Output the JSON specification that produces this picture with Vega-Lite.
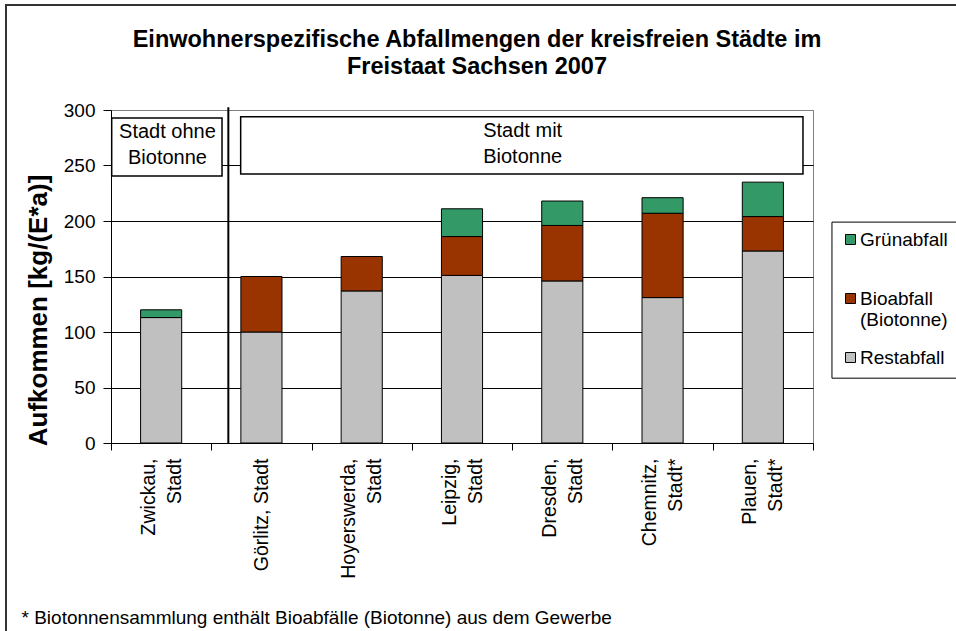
{
  "$schema": "https://vega.github.io/schema/vega-lite/v6.json",
  "width": 702,
  "height": 333,
  "autosize": {"type": "none"},
  "padding": {"left": 111, "top": 110, "right": 143, "bottom": 188},
  "background": "white",
  "config": {
    "font": "Liberation Sans",
    "view": {"stroke": "#808080", "strokeWidth": 1}
  },
  "title": {
    "text": ["Einwohnerspezifische Abfallmengen der kreisfreien Städte im", "Freistaat Sachsen 2007"],
    "fontSize": 23.5,
    "fontWeight": "bold",
    "color": "black",
    "lineHeight": 27,
    "anchor": "middle",
    "frame": "group",
    "dx": 15,
    "offset": -75
  },
  "datasets": {
    "waste": [
      {"Stadt": "Zwickau, Stadt", "Art": "Restabfall", "ord": 1, "Menge": 113},
      {"Stadt": "Zwickau, Stadt", "Art": "Grünabfall", "ord": 3, "Menge": 7},
      {"Stadt": "Görlitz, Stadt", "Art": "Restabfall", "ord": 1, "Menge": 100},
      {"Stadt": "Görlitz, Stadt", "Art": "Bioabfall (Biotonne)", "ord": 2, "Menge": 50},
      {"Stadt": "Hoyerswerda, Stadt", "Art": "Restabfall", "ord": 1, "Menge": 137},
      {"Stadt": "Hoyerswerda, Stadt", "Art": "Bioabfall (Biotonne)", "ord": 2, "Menge": 31},
      {"Stadt": "Leipzig, Stadt", "Art": "Restabfall", "ord": 1, "Menge": 151},
      {"Stadt": "Leipzig, Stadt", "Art": "Bioabfall (Biotonne)", "ord": 2, "Menge": 35},
      {"Stadt": "Leipzig, Stadt", "Art": "Grünabfall", "ord": 3, "Menge": 25},
      {"Stadt": "Dresden, Stadt", "Art": "Restabfall", "ord": 1, "Menge": 146},
      {"Stadt": "Dresden, Stadt", "Art": "Bioabfall (Biotonne)", "ord": 2, "Menge": 50},
      {"Stadt": "Dresden, Stadt", "Art": "Grünabfall", "ord": 3, "Menge": 22},
      {"Stadt": "Chemnitz, Stadt*", "Art": "Restabfall", "ord": 1, "Menge": 131},
      {"Stadt": "Chemnitz, Stadt*", "Art": "Bioabfall (Biotonne)", "ord": 2, "Menge": 76},
      {"Stadt": "Chemnitz, Stadt*", "Art": "Grünabfall", "ord": 3, "Menge": 14},
      {"Stadt": "Plauen, Stadt*", "Art": "Restabfall", "ord": 1, "Menge": 173},
      {"Stadt": "Plauen, Stadt*", "Art": "Bioabfall (Biotonne)", "ord": 2, "Menge": 31},
      {"Stadt": "Plauen, Stadt*", "Art": "Grünabfall", "ord": 3, "Menge": 31}
    ],
    "boxes": [
      {"x1": 0.007, "x2": 1.107, "y1": 240.5, "y2": 292.8},
      {"x1": 1.293, "x2": 6.9, "y1": 242.3, "y2": 294}
    ],
    "boxtext": [
      {"x": 0.563, "y": 280.2, "label": "Stadt ohne\nBiotonne"},
      {"x": 4.105, "y": 281.3, "label": "Stadt mit\nBiotonne"}
    ],
    "divider": [{"x": 1.17, "y1": 0, "y2": 302.4}],
    "frame": [{"x1": -1.047, "x2": 8.5, "y1": -250, "y2": 394.7}],
    "legendbox": [{"x1": 7.189, "x2": 8.5, "y1": 58.4, "y2": 199}]
  },
  "layer": [
    {
      "data": {"name": "waste"},
      "mark": {"type": "bar", "stroke": "black", "strokeWidth": 1, "width": {"band": 0.41}},
      "encoding": {
        "x": {
          "field": "Stadt",
          "type": "nominal",
          "sort": null,
          "scale": {"paddingInner": 0, "paddingOuter": 0},
          "axis": {
            "title": "* Biotonnensammlung enthält Bioabfälle (Biotonne) aus dem Gewerbe",
            "titleFontSize": 19,
            "titleFontWeight": "normal",
            "titleColor": "black",
            "titleX": -90,
            "titleY": 180,
            "titleAlign": "left",
            "titleBaseline": "alphabetic",
            "labelAngle": -90,
            "labelAlign": "right",
            "labelBaseline": "middle",
            "labelFontSize": 19.5,
            "labelColor": "black",
            "labelLineHeight": 26,
            "labelPadding": 8,
            "labelOffset": {"condition": {"test": "datum.value == 'Görlitz, Stadt'", "value": 0}, "value": -13},
            "labelExpr": "isValid(datum.value) ? (datum.value == 'Görlitz, Stadt' ? 'Görlitz,  Stadt' : split(datum.value, ' ')) : ''",
            "tickBand": "extent",
            "tickSize": 7,
            "tickColor": "black",
            "domainColor": "black",
            "grid": false
          }
        },
        "y": {
          "field": "Menge",
          "type": "quantitative",
          "stack": "zero",
          "scale": {"domain": [0, 300], "nice": false},
          "axis": {
            "title": "Aufkommen [kg/(E*a)]",
            "titleFontSize": 26,
            "titleFontWeight": "bold",
            "titleColor": "black",
            "titlePadding": 12,
            "titleY": 200,
            "values": [0, 50, 100, 150, 200, 250, 300],
            "labelFontSize": 19,
            "labelColor": "black",
            "labelPadding": 8,
            "tickSize": 8,
            "tickColor": "black",
            "domainColor": "black",
            "grid": true,
            "gridColor": {"condition": {"test": "datum.value == 300", "value": "#808080"}, "value": "black"},
            "gridOpacity": 1
          }
        },
        "color": {
          "field": "Art",
          "type": "nominal",
          "scale": {
            "domain": ["Grünabfall", "Bioabfall (Biotonne)", "Restabfall"],
            "range": ["#339966", "#993300", "#C0C0C0"]
          },
          "legend": {
            "title": null,
            "orient": "none",
            "legendX": 730,
            "legendY": 120,
            "gridAlign": "all",
            "symbolType": "square",
            "symbolSize": 100,
            "symbolStrokeColor": "black",
            "symbolStrokeWidth": 1,
            "labelFontSize": 19,
            "labelColor": "black",
            "labelLineHeight": 21,
            "labelOffset": 0,
            "labelLimit": 300,
            "rowPadding": 18,
            "labelExpr": "datum.value == 'Bioabfall (Biotonne)' ? ['Bioabfall', '(Biotonne)'] : datum.value"
          }
        },
        "order": {"field": "ord", "type": "quantitative"}
      }
    },
    {
      "data": {"name": "boxes"},
      "mark": {"type": "rect", "fill": "white", "stroke": "black", "strokeWidth": 1.5},
      "encoding": {
        "x": {"field": "x1", "type": "quantitative", "scale": {"domain": [0, 7], "nice": false, "zero": false}, "axis": null},
        "x2": {"field": "x2"},
        "y": {"field": "y1", "type": "quantitative", "scale": {"domain": [0, 300], "nice": false}, "axis": null},
        "y2": {"field": "y2"}
      }
    },
    {
      "data": {"name": "boxtext"},
      "mark": {"type": "text", "fontSize": 20, "lineBreak": "\n", "lineHeight": 26, "align": "center", "baseline": "middle", "color": "black"},
      "encoding": {
        "x": {"field": "x", "type": "quantitative", "scale": {"domain": [0, 7], "nice": false, "zero": false}, "axis": null},
        "y": {"field": "y", "type": "quantitative", "scale": {"domain": [0, 300], "nice": false}, "axis": null},
        "text": {"field": "label"}
      }
    },
    {
      "data": {"name": "divider"},
      "mark": {"type": "rule", "stroke": "black", "strokeWidth": 2},
      "encoding": {
        "x": {"field": "x", "type": "quantitative", "scale": {"domain": [0, 7], "nice": false, "zero": false}, "axis": null},
        "y": {"field": "y1", "type": "quantitative", "scale": {"domain": [0, 300], "nice": false}, "axis": null},
        "y2": {"field": "y2"}
      }
    },
    {
      "data": {"name": "frame"},
      "mark": {"type": "rect", "fill": null, "fillOpacity": 0, "stroke": "#333333", "strokeWidth": 2},
      "encoding": {
        "x": {"field": "x1", "type": "quantitative", "scale": {"domain": [0, 7], "nice": false, "zero": false}, "axis": null},
        "x2": {"field": "x2"},
        "y": {"field": "y1", "type": "quantitative", "scale": {"domain": [0, 300], "nice": false}, "axis": null},
        "y2": {"field": "y2"}
      }
    },
    {
      "data": {"name": "legendbox"},
      "mark": {"type": "rect", "fill": null, "fillOpacity": 0, "stroke": "black", "strokeWidth": 1},
      "encoding": {
        "x": {"field": "x1", "type": "quantitative", "scale": {"domain": [0, 7], "nice": false, "zero": false}, "axis": null},
        "x2": {"field": "x2"},
        "y": {"field": "y1", "type": "quantitative", "scale": {"domain": [0, 300], "nice": false}, "axis": null},
        "y2": {"field": "y2"}
      }
    }
  ],
  "resolve": {"scale": {"x": "independent"}, "axis": {"x": "independent", "y": "independent"}}
}
